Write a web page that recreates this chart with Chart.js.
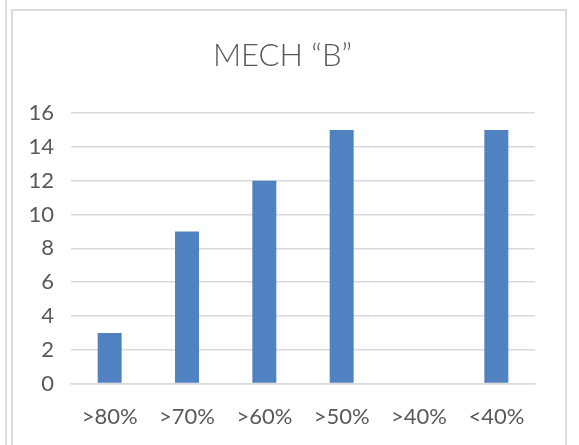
<!DOCTYPE html>
<html>
<head>
<meta charset="utf-8">
<script src="https://cdn.jsdelivr.net/npm/chart.js@4"></script>
<style>
    body { margin: 0; background: #fff; }
    #wrap { position: relative; width: 579px; height: 445px; overflow: hidden; }
    #sideLine { position: absolute; left: 5px; top: 0; width: 2px; height: 445px; background: #dcdcdc; }
    #frame { position: absolute; left: 11px; top: 9px; width: 552px; height: 450px; border: 2px solid #dcdcdc; border-bottom: none; }
    canvas { position: absolute; left: 0; top: 0; }
</style>
</head>
<body>
<div id="wrap">
    <div id="sideLine"></div>
    <div id="frame"></div>
    <canvas id="myChart" width="579" height="445"></canvas>
</div>
<script>
    // categories and values
    var categories = ['>80%', '>70%', '>60%', '>50%', '>40%', '<40%'];
    var counts = [3, 9, 12, 15, 0, 15];
    var titleText = 'MECH \u201CB\u201D';

    var ctx = document.getElementById('myChart').getContext('2d');
    new Chart(ctx, {
        type: 'bar',
        data: {
            labels: categories,
            datasets: [{
                label: 'MECH B',
                data: counts,
                backgroundColor: '#5081c0',
                barPercentage: 0.62,
                categoryPercentage: 0.5
            }]
        },
        options: {
            responsive: false,
            animation: false,
            layout: {
                padding: { left: 30, right: 44, top: 37, bottom: -5 }
            },
            plugins: {
                legend: { display: false },
                tooltip: { enabled: false },
                title: {
                    display: true,
                    text: titleText,
                    color: '#595959',
                    font: { family: 'Lato', size: 31, weight: '300' },
                    padding: { top: 0, bottom: 39 }
                }
            },
            scales: {
                y: {
                    min: 0,
                    max: 16,
                    afterFit: function (scale) { scale.width = 41; },
                    ticks: {
                        stepSize: 2,
                        color: '#595959',
                        font: { family: 'Lato', size: 22 },
                        padding: 17
                    },
                    grid: { color: '#d9d9d9', lineWidth: 1.5, drawTicks: false },
                    border: { display: false }
                },
                x: {
                    ticks: {
                        color: '#595959',
                        font: { family: 'Lato', size: 22 },
                        padding: 20
                    },
                    grid: { display: false, drawTicks: false },
                    border: { color: '#d9d9d9', width: 1.5 }
                }
            }
        }
    });
</script>
</body>
</html>
